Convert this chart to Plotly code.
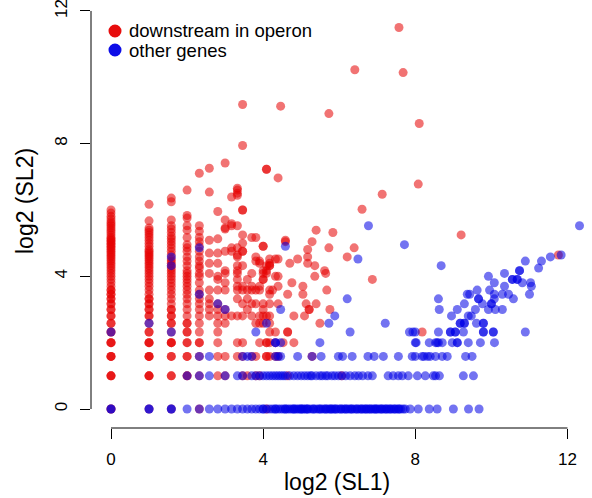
import numpy as np
import plotly.graph_objects as go

# ---------------- data (raw counts; plotted as log2) ----------------
# red: "downstream in operon" - columns at small SL1
red_sl2_at_sl1_1 = [1, 1, 2, 2, 2, 3, 3, 3, 4, 4, 4, 5, 5, 6, 6, 7, 7, 8, 8, 9, 9, 10, 10, 11, 11, 12, 12,
                    13, 14, 15, 16, 17, 18, 19, 20, 21, 22, 23, 24, 25, 26, 27, 28, 29, 30, 31, 32, 33, 34,
                    35, 36, 38, 40, 42, 44, 46, 48, 50, 53, 56, 60, 64]
red_sl2_at_sl1_2 = [1, 2, 2, 2, 3, 3, 3, 4, 4, 4, 5, 5, 6, 7, 7, 8, 8, 9, 9, 10, 10, 11, 12, 13, 14, 15, 16,
                    17, 18, 19, 20, 21, 22, 23, 24, 25, 26, 27, 28, 30, 32, 34, 36, 38, 40, 42, 44, 51, 72]
red_sl2_at_sl1_3 = [1, 2, 2, 3, 3, 4, 4, 4, 5, 6, 6, 7, 7, 8, 8, 9, 10, 11, 12, 13, 14, 15, 16, 17, 18, 19,
                    20, 21, 22, 23, 25, 27, 29, 31, 33, 35, 37, 40, 43, 46, 52, 76, 82]
red_sl2_at_sl1_4 = [2, 2, 3, 3, 4, 4, 5, 5, 6, 6, 7, 8, 9, 10, 11, 12, 13, 14, 15, 16, 17, 18, 20, 22, 24,
                    27, 29, 31, 36, 42, 46, 54, 57, 97]
red_sl2_at_sl1_5 = [1, 2, 3, 4, 4, 5, 6, 7, 8, 9, 10, 11, 12, 14, 16, 17, 19, 20, 22, 24, 27, 30, 33, 36,
                    41, 46, 138]

# red: scattered points (SL1, SL2 pairs)
red_other_sl1 = [6, 6, 6, 6, 6, 6, 6, 6, 6, 6, 6,
                 7, 7, 7, 7, 7, 7, 7, 7, 7, 7, 7, 7, 7, 7, 7,
                 8, 8, 8, 8, 8, 8, 8, 8, 8, 8, 8, 8, 8, 8,
                 9, 9, 9, 9, 9, 9,
                 10, 10, 10, 10, 10, 10, 10, 10, 10, 10, 10, 10, 10, 10, 10, 10, 10, 10,
                 11, 11, 11, 11, 11, 11, 11, 11, 11, 11, 11, 11, 11, 11, 11, 11,
                 12, 12, 12, 12, 12,
                 13, 13, 13, 13, 13, 13, 13,
                 14, 14, 14, 14, 14, 14, 14, 14,
                 15, 15, 15, 15, 15, 15, 15, 15,
                 16, 16, 16, 16, 16, 16, 16, 16, 16, 16,
                 17, 17, 17, 17, 17, 17, 17, 17, 17, 17, 17,
                 18, 18, 18, 18, 18, 18, 18, 18, 18, 18, 18, 18,
                 19, 20, 20, 20, 20, 20, 21, 21, 21, 21, 21, 21, 22, 23, 24, 24,
                 25, 25, 25, 25, 26, 27, 28, 28, 30, 33, 33, 34, 35, 36, 36, 36, 37, 37,
                 39, 39, 41, 41, 42, 42, 45, 49, 50, 51, 53, 53, 54, 57, 67, 74, 84, 85,
                 97, 117, 140, 190, 205, 270, 275, 290, 590, 3470]
red_other_sl2 = [7, 8, 9, 10, 12, 17, 21, 26, 34, 93, 153,
                 2, 3, 4, 5, 6, 7, 8, 9, 12, 15, 16, 21, 26, 35, 62,
                 2, 3, 6, 7, 8, 12, 14, 17, 18, 27, 43, 44, 52, 171,
                 7, 27, 29, 46, 48, 84,
                 3, 4, 7, 10, 12, 13, 15, 17, 18, 20, 24, 25, 29, 46, 87, 91, 97, 101,
                 2, 3, 4, 7, 9, 12, 13, 20, 27, 27, 32, 38, 64, 64, 246, 580,
                 2, 8, 10, 12, 15,
                 3, 7, 9, 12, 13, 17, 36,
                 2, 3, 6, 9, 12, 22, 24, 36,
                 2, 4, 6, 7, 12, 13, 21, 22,
                 6, 7, 8, 9, 15, 15, 17, 18, 30, 30,
                 1, 3, 3, 4, 4, 7, 17, 18, 20, 150, 150,
                 3, 4, 5, 6, 7, 9, 11, 12, 20, 20, 21, 23,
                 12, 3, 4, 5, 16, 23, 3, 9, 13, 16, 23, 125, 560, 4, 33, 34,
                 2, 5, 5, 11, 21, 14, 4, 7, 23, 11, 13, 7, 9, 21, 24, 28, 8, 8,
                 3, 33, 16, 20, 9, 42, 6, 18, 17, 12, 29, 480, 8, 40, 2, 24, 29, 1200,
                 65, 15, 89, 2900, 1130, 110, 390, 5, 38, 25]

# blue: "other genes" - rows at small SL2
blue_sl1_at_sl2_1 = [1, 1, 2, 2, 3, 3, 4, 5, 6, 7, 8, 9, 10, 11, 12, 13, 14, 15, 16, 17, 18, 19, 20, 21, 22,
                     23, 24, 25, 26, 27, 28, 29, 30, 31, 32, 33, 34, 35, 36, 38, 40, 42, 44, 46, 48, 50, 52,
                     54, 56, 58, 60, 63, 66, 69, 72, 75, 78, 81, 85, 89, 93, 97, 101, 105, 109, 114, 118,
                     122, 126, 130, 135, 140, 146, 152, 158, 165, 172, 180, 188, 196, 205, 213, 233, 270,
                     330, 381, 512, 675, 818,
                     16, 20, 24, 28, 32, 36, 40, 45, 50, 55, 60, 66, 72, 80, 88, 96, 104, 112, 124, 138,
                     150, 162, 176, 190]
blue_sl1_at_sl2_2 = [4, 5, 6, 8, 10, 11, 13, 14, 15, 16, 17, 18, 19, 20, 21, 22, 23, 24, 26, 28, 30, 32, 34,
                     36, 38, 39, 42, 45, 47, 50, 52, 56, 59, 63, 67, 72, 78, 85, 91, 98, 108, 117, 156, 171,
                     188, 202, 225, 266, 307, 355, 370, 397, 614, 738]
blue_sl1_at_sl2_3 = [5, 6, 11, 12, 13, 20, 21, 22, 30, 39, 46, 63, 68, 81, 108, 121, 143, 188, 242, 256,
                     290, 300, 320, 336, 370, 418, 458, 640, 720]

# blue: scattered points (SL1, SL2 pairs)
blue_other_sl1 = [1, 2, 3, 3, 3, 5, 5, 7, 8, 14, 17, 20, 20, 22, 22, 24, 45, 53, 59, 74, 78, 90, 109, 148,
                  210, 230, 245, 256, 260, 256, 330, 370, 380, 390, 418, 502, 550, 550, 672, 838, 1083,
                  390, 485, 485, 530, 530, 615, 885, 885, 1060, 1060, 1900,
                  580, 580, 626, 626, 780, 885, 885, 495, 672, 710,
                  396, 550, 765, 970, 1100, 1250, 626, 870, 1024, 1024,
                  390, 810, 810, 1080, 1530, 660, 690, 1080, 1250, 1400, 2050,
                  790, 990, 1300, 2120, 1080, 1800, 2090, 1500, 1500, 1640, 1640,
                  970, 1300, 1710, 1710, 2420, 410, 1900, 2550, 3000, 3650, 5100]
blue_other_sl2 = [5, 6, 5, 20, 24, 29, 11, 9, 8, 5, 6, 4, 4, 4, 8, 30, 4, 6, 7, 10, 5, 23, 46, 6,
                  31, 5, 5, 4, 4, 5, 4, 4, 4, 4, 4, 4, 4, 4, 4, 4, 4,
                  5, 5, 5, 5, 5, 5, 5, 5, 5, 5, 5,
                  6, 6, 6, 6, 6, 6, 6, 7, 7, 7,
                  8, 8, 8, 8, 8, 8, 9, 9, 9, 9,
                  10, 10, 10, 10, 10, 11, 11, 11, 11, 11, 11,
                  12, 12, 13, 13, 14, 14, 14, 15, 15, 15, 15,
                  16, 17, 18, 18, 19, 20, 22, 22, 24, 25, 46]

x_ticks = [0, 4, 8, 12]
y_ticks = [0, 4, 8, 12]
legend_labels = ["downstream in operon", "other genes"]

# ---------------- assemble ----------------
red_sl1 = ([1] * len(red_sl2_at_sl1_1) + [2] * len(red_sl2_at_sl1_2) + [3] * len(red_sl2_at_sl1_3)
           + [4] * len(red_sl2_at_sl1_4) + [5] * len(red_sl2_at_sl1_5) + red_other_sl1)
red_sl2 = red_sl2_at_sl1_1 + red_sl2_at_sl1_2 + red_sl2_at_sl1_3 + red_sl2_at_sl1_4 + red_sl2_at_sl1_5 + red_other_sl2
blue_sl1 = blue_sl1_at_sl2_1 + blue_sl1_at_sl2_2 + blue_sl1_at_sl2_3 + blue_other_sl1
blue_sl2 = ([1] * len(blue_sl1_at_sl2_1) + [2] * len(blue_sl1_at_sl2_2) + [3] * len(blue_sl1_at_sl2_3)
            + blue_other_sl2)

RED = "rgba(230,0,0,0.55)"
BLUE = "rgba(0,0,230,0.55)"
FONT = "Liberation Sans, Arial, Helvetica, sans-serif"

fig = go.Figure()
fig.add_trace(go.Scatter(x=np.log2(red_sl1), y=np.log2(red_sl2), mode="markers",
                         marker=dict(size=9, color=RED, line=dict(width=0)),
                         name=legend_labels[0], showlegend=False, hoverinfo="skip"))
fig.add_trace(go.Scatter(x=np.log2(blue_sl1), y=np.log2(blue_sl2), mode="markers",
                         marker=dict(size=9, color=BLUE, line=dict(width=0)),
                         name=legend_labels[1], showlegend=False, hoverinfo="skip"))

L, R, T, B = 91, 5, 5, 70
W, H = 592, 498
pw, ph = W - L - R, H - T - B
xpx = 38.04
ypx = 33.17
x0 = -20 / xpx
y0 = -19 / ypx

def px_to_paper_x(px):
    return (px - L) / pw

def py_to_paper_y(py):
    return (H - B - py) / ph

shapes = [
    dict(type="line", xref="x", yref="paper", x0=x_ticks[0], x1=x_ticks[-1], y0=0, y1=0,
         line=dict(color="black", width=1)),
    dict(type="line", xref="paper", yref="y", x0=0, x1=0, y0=y_ticks[0], y1=y_ticks[-1],
         line=dict(color="black", width=1)),
]
legend_colors = ["rgba(230,0,0,0.95)", "rgba(0,0,230,0.95)"]
legend_py = [31, 50]
for col, py in zip(legend_colors, legend_py):
    shapes.append(dict(type="circle", xref="paper", yref="paper", xsizemode="pixel", ysizemode="pixel",
                       xanchor=px_to_paper_x(115), yanchor=py_to_paper_y(py),
                       x0=-6.5, x1=6.5, y0=-6.5, y1=6.5, fillcolor=col, line=dict(width=0)))

annotations = []
for lab, py in zip(legend_labels, legend_py):
    annotations.append(dict(text=lab, xref="paper", yref="paper", x=px_to_paper_x(127), y=py_to_paper_y(py),
                            xanchor="left", yanchor="middle", showarrow=False,
                            font=dict(size=18.5, family=FONT, color="black")))
annotations.append(dict(text="log2 (SL1)", xref="paper", yref="paper", x=px_to_paper_x(337),
                        y=py_to_paper_y(482), xanchor="center", yanchor="middle", showarrow=False,
                        font=dict(size=23, family=FONT, color="black")))
annotations.append(dict(text="log2 (SL2)", xref="paper", yref="paper", x=px_to_paper_x(25),
                        y=py_to_paper_y(201), xanchor="center", yanchor="middle", showarrow=False,
                        textangle=-90, font=dict(size=23, family=FONT, color="black")))

fig.update_layout(
    width=W, height=H, margin=dict(l=L, r=R, t=T, b=B, autoexpand=False),
    plot_bgcolor="white", paper_bgcolor="white", showlegend=False,
    font=dict(family=FONT, color="black"),
    xaxis=dict(range=[x0, x0 + pw / xpx], tickvals=x_ticks, ticktext=[str(v) for v in x_ticks],
               ticks="outside", ticklen=10, tickwidth=1, tickcolor="black", showgrid=False,
               zeroline=False, showline=False, tickfont=dict(size=17), ticklabelstandoff=6,
               ticklabeloverflow="allow"),
    yaxis=dict(range=[y0, y0 + ph / ypx], tickvals=y_ticks, ticktext=[str(v) for v in y_ticks],
               ticks="outside", ticklen=10, tickwidth=1, tickcolor="black", showgrid=False,
               zeroline=False, showline=False, tickfont=dict(size=17), tickangle=-90,
               ticklabelstandoff=6, ticklabeloverflow="allow"),
    shapes=shapes, annotations=annotations,
)

fig.write_html("out.html", config={"displayModeBar": False, "staticPlot": True},
               post_script="document.body.style.margin='0px';document.body.style.overflow='hidden';")
